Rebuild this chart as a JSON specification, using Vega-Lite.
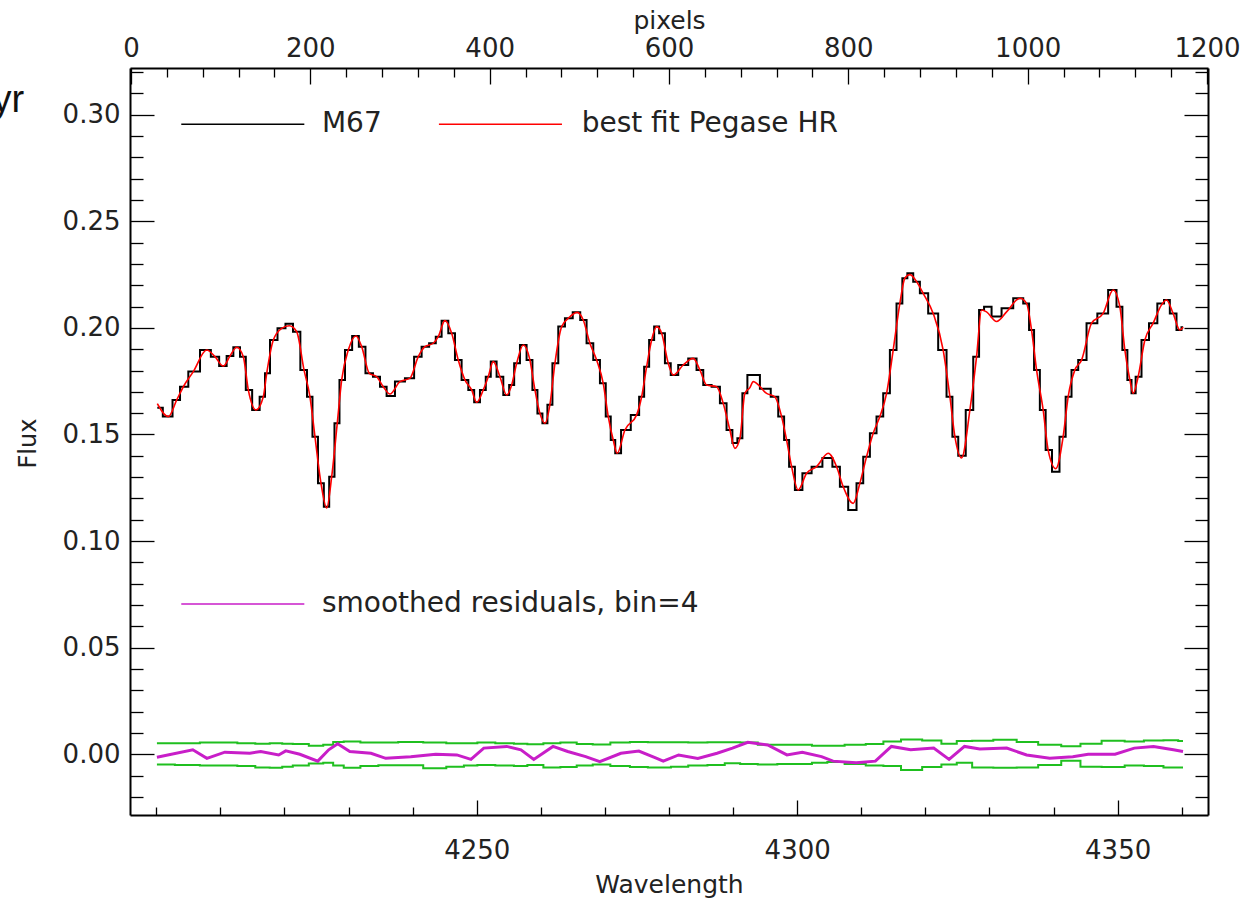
{
  "$schema": "https://vega.github.io/schema/vega-lite/v6.json",
  "autosize": "none",
  "width": 1078,
  "height": 747,
  "padding": {"left": 130, "top": 68, "right": 38, "bottom": 85},
  "background": "white",
  "config": {
    "view": {"stroke": null},
    "axis": {
      "labelFont": "DejaVu Sans", "titleFont": "DejaVu Sans",
      "labelColor": "#222", "titleColor": "#222", "titleFontWeight": "normal",
      "labelFontSize": 26, "titleFontSize": 25,
      "domainColor": "black", "tickColor": "black", "domainWidth": 2, "tickWidth": 1.3,
      "grid": false, "labelFlush": false, "labelOverlap": false, "labelBound": false
    }
  },
  "datasets": {
    "spec": [
      {"wl":4200.16,"m67":0.1625,"fit":0.1645},{"wl":4201.88,"m67":0.1584,"fit":0.1584},{"wl":4203.19,"m67":0.1662,"fit":0.1662},
      {"wl":4204.22,"m67":0.1724,"fit":0.1724},{"wl":4205.78,"m67":0.1795,"fit":0.1795},{"wl":4207.87,"m67":0.1896,"fit":0.1896},
      {"wl":4209.16,"m67":0.1865,"fit":0.1865},{"wl":4210.46,"m67":0.1821,"fit":0.1821},{"wl":4211.5,"m67":0.1868,"fit":0.1868},
      {"wl":4212.55,"m67":0.1909,"fit":0.1909},{"wl":4213.58,"m67":0.1865,"fit":0.1865},{"wl":4214.36,"m67":0.1709,"fit":0.1709},
      {"wl":4215.56,"m67":0.1615,"fit":0.1615},{"wl":4216.7,"m67":0.1677,"fit":0.1677},{"wl":4217.23,"m67":0.1787,"fit":0.1787},
      {"wl":4218.26,"m67":0.1943,"fit":0.1943},{"wl":4219.57,"m67":0.1998,"fit":0.1998},{"wl":4220.75,"m67":0.2020,"fit":0.2010},
      {"wl":4221.91,"m67":0.1982,"fit":0.1982},{"wl":4223.05,"m67":0.1803,"fit":0.1803},{"wl":4223.98,"m67":0.1677,"fit":0.1677},
      {"wl":4224.76,"m67":0.1490,"fit":0.1490},{"wl":4225.7,"m67":0.1271,"fit":0.1271},{"wl":4226.59,"m67":0.1161,"fit":0.1155},
      {"wl":4227.37,"m67":0.1302,"fit":0.1302},{"wl":4228.24,"m67":0.1553,"fit":0.1553},{"wl":4228.93,"m67":0.1756,"fit":0.1756},
      {"wl":4229.96,"m67":0.1896,"fit":0.1896},{"wl":4231.16,"m67":0.1962,"fit":0.1962},{"wl":4232.05,"m67":0.1912,"fit":0.1912},
      {"wl":4233.23,"m67":0.1787,"fit":0.1787},{"wl":4234.39,"m67":0.1771,"fit":0.1771},{"wl":4235.42,"m67":0.1724,"fit":0.1724},
      {"wl":4236.46,"m67":0.1680,"fit":0.1690},{"wl":4238.02,"m67":0.1748,"fit":0.1748},{"wl":4239.58,"m67":0.1764,"fit":0.1764},
      {"wl":4240.88,"m67":0.1865,"fit":0.1865},{"wl":4241.92,"m67":0.1912,"fit":0.1912},{"wl":4243.22,"m67":0.1928,"fit":0.1928},
      {"wl":4244.0,"m67":0.1959,"fit":0.1959},{"wl":4245.04,"m67":0.2034,"fit":0.2034},{"wl":4246.09,"m67":0.1975,"fit":0.1975},
      {"wl":4247.12,"m67":0.1849,"fit":0.1849},{"wl":4248.16,"m67":0.1756,"fit":0.1756},{"wl":4249.21,"m67":0.1709,"fit":0.1709},
      {"wl":4249.99,"m67":0.1651,"fit":0.1651},{"wl":4251.02,"m67":0.1709,"fit":0.1709},{"wl":4251.8,"m67":0.1771,"fit":0.1771},
      {"wl":4252.58,"m67":0.1842,"fit":0.1842},{"wl":4253.62,"m67":0.1771,"fit":0.1771},{"wl":4254.67,"m67":0.1685,"fit":0.1685},
      {"wl":4255.45,"m67":0.1732,"fit":0.1732},{"wl":4256.23,"m67":0.1834,"fit":0.1834},{"wl":4257.26,"m67":0.1920,"fit":0.1920},
      {"wl":4258.3,"m67":0.1849,"fit":0.1849},{"wl":4259.08,"m67":0.1709,"fit":0.1709},{"wl":4259.86,"m67":0.1599,"fit":0.1599},
      {"wl":4260.64,"m67":0.1553,"fit":0.1553},{"wl":4261.42,"m67":0.1640,"fit":0.1640},{"wl":4262.2,"m67":0.1834,"fit":0.1834},
      {"wl":4263.25,"m67":0.2006,"fit":0.2006},{"wl":4264.28,"m67":0.2045,"fit":0.2045},{"wl":4265.68,"m67":0.2073,"fit":0.2073},
      {"wl":4266.62,"m67":0.2037,"fit":0.2037},{"wl":4267.66,"m67":0.1928,"fit":0.1928},{"wl":4268.71,"m67":0.1849,"fit":0.1849},
      {"wl":4269.74,"m67":0.1740,"fit":0.1740},{"wl":4270.52,"m67":0.1584,"fit":0.1584},{"wl":4271.3,"m67":0.1474,"fit":0.1474},
      {"wl":4271.92,"m67":0.1412,"fit":0.1412},{"wl":4273.12,"m67":0.1521,"fit":0.1521},{"wl":4274.95,"m67":0.1592,"fit":0.1592},
      {"wl":4275.73,"m67":0.1677,"fit":0.1677},{"wl":4276.51,"m67":0.1818,"fit":0.1818},{"wl":4277.29,"m67":0.1943,"fit":0.1943},
      {"wl":4278.07,"m67":0.2006,"fit":0.2006},{"wl":4278.85,"m67":0.1975,"fit":0.1975},{"wl":4279.88,"m67":0.1834,"fit":0.1834},
      {"wl":4280.66,"m67":0.1779,"fit":0.1779},{"wl":4282.22,"m67":0.1826,"fit":0.1826},{"wl":4283.78,"m67":0.1857,"fit":0.1857},
      {"wl":4284.82,"m67":0.1803,"fit":0.1803},{"wl":4285.87,"m67":0.1732,"fit":0.1732},{"wl":4287.43,"m67":0.1724,"fit":0.1724},
      {"wl":4288.46,"m67":0.1646,"fit":0.1646},{"wl":4289.5,"m67":0.1521,"fit":0.1521},{"wl":4290.28,"m67":0.1460,"fit":0.1435},
      {"wl":4291.06,"m67":0.1482,"fit":0.1482},{"wl":4291.84,"m67":0.1693,"fit":0.1693},{"wl":4292.62,"m67":0.1779,"fit":0.1720},
      {"wl":4293.14,"m67":0.1779,"fit":0.1748},{"wl":4295.23,"m67":0.1715,"fit":0.1693},{"wl":4296.52,"m67":0.1677,"fit":0.1677},
      {"wl":4297.57,"m67":0.1584,"fit":0.1584},{"wl":4298.35,"m67":0.1474,"fit":0.1474},{"wl":4299.13,"m67":0.1349,"fit":0.1349},
      {"wl":4300.16,"m67":0.1240,"fit":0.1240},{"wl":4301.47,"m67":0.1318,"fit":0.1318},{"wl":4303.03,"m67":0.1349,"fit":0.1349},
      {"wl":4304.84,"m67":0.1390,"fit":0.1412},{"wl":4306.15,"m67":0.1349,"fit":0.1349},{"wl":4307.18,"m67":0.1255,"fit":0.1255},
      {"wl":4308.74,"m67":0.1146,"fit":0.1177},{"wl":4309.78,"m67":0.1271,"fit":0.1271},{"wl":4310.83,"m67":0.1396,"fit":0.1396},
      {"wl":4311.86,"m67":0.1506,"fit":0.1506},{"wl":4312.9,"m67":0.1584,"fit":0.1584},{"wl":4313.95,"m67":0.1693,"fit":0.1693},
      {"wl":4314.98,"m67":0.1896,"fit":0.1896},{"wl":4316.02,"m67":0.2115,"fit":0.2115},{"wl":4316.8,"m67":0.2233,"fit":0.2233},
      {"wl":4317.58,"m67":0.2256,"fit":0.2250},{"wl":4318.63,"m67":0.2217,"fit":0.2217},{"wl":4319.66,"m67":0.2162,"fit":0.2162},
      {"wl":4321.22,"m67":0.2068,"fit":0.2068},{"wl":4322.78,"m67":0.1896,"fit":0.1896},{"wl":4323.83,"m67":0.1677,"fit":0.1677},
      {"wl":4324.61,"m67":0.1490,"fit":0.1490},{"wl":4325.65,"m67":0.1400,"fit":0.1390},{"wl":4326.95,"m67":0.1615,"fit":0.1615},
      {"wl":4327.99,"m67":0.1865,"fit":0.1865},{"wl":4328.77,"m67":0.2084,"fit":0.2084},{"wl":4329.55,"m67":0.2099,"fit":0.2075},
      {"wl":4331.11,"m67":0.2053,"fit":0.2030},{"wl":4332.67,"m67":0.2092,"fit":0.2075},{"wl":4334.75,"m67":0.2139,"fit":0.2139},
      {"wl":4335.79,"m67":0.2115,"fit":0.2115},{"wl":4336.57,"m67":0.1990,"fit":0.1990},{"wl":4337.35,"m67":0.1803,"fit":0.1803},
      {"wl":4338.38,"m67":0.1615,"fit":0.1615},{"wl":4339.16,"m67":0.1427,"fit":0.1427},{"wl":4340.36,"m67":0.1325,"fit":0.1340},
      {"wl":4341.5,"m67":0.1490,"fit":0.1490},{"wl":4342.28,"m67":0.1677,"fit":0.1677},{"wl":4343.33,"m67":0.1803,"fit":0.1803},
      {"wl":4344.37,"m67":0.1849,"fit":0.1849},{"wl":4345.93,"m67":0.2022,"fit":0.2022},{"wl":4347.74,"m67":0.2068,"fit":0.2068},
      {"wl":4349.3,"m67":0.2178,"fit":0.2178},{"wl":4350.35,"m67":0.2099,"fit":0.2099},{"wl":4351.13,"m67":0.1896,"fit":0.1896},
      {"wl":4351.91,"m67":0.1756,"fit":0.1756},{"wl":4352.42,"m67":0.1693,"fit":0.1693},{"wl":4353.2,"m67":0.1771,"fit":0.1771},
      {"wl":4354.25,"m67":0.1943,"fit":0.1943},{"wl":4355.54,"m67":0.2022,"fit":0.2022},{"wl":4356.85,"m67":0.2115,"fit":0.2108},
      {"wl":4357.63,"m67":0.2131,"fit":0.2131},{"wl":4358.66,"m67":0.2068,"fit":0.2068},{"wl":4359.71,"m67":0.1990,"fit":0.1990},
      {"wl":4360.22,"m67":0.2003,"fit":0.2003}
    ],
    "res": [
      {"wl":4200.1,"resid":-0.0014,"upper":0.0052,"lower":-0.0048},{"wl":4205.7,"resid":0.0021,"upper":0.0052,"lower":-0.0050},
      {"wl":4207.9,"resid":-0.0019,"upper":0.0055,"lower":-0.0052},{"wl":4210.7,"resid":0.0010,"upper":0.0055,"lower":-0.0052},
      {"wl":4214.6,"resid":0.0005,"upper":0.0052,"lower":-0.0055},{"wl":4216.3,"resid":0.0013,"upper":0.0050,"lower":-0.0062},
      {"wl":4219.1,"resid":-0.0003,"upper":0.0052,"lower":-0.0063},{"wl":4220.2,"resid":0.0016,"upper":0.0050,"lower":-0.0058},
      {"wl":4222.4,"resid":0.0000,"upper":0.0048,"lower":-0.0052},{"wl":4225.2,"resid":-0.0032,"upper":0.0040,"lower":-0.0043},
      {"wl":4226.9,"resid":0.0021,"upper":0.0045,"lower":-0.0040},{"wl":4228.3,"resid":0.0049,"upper":0.0058,"lower":-0.0052},
      {"wl":4230.2,"resid":0.0013,"upper":0.0060,"lower":-0.0063},{"wl":4233.5,"resid":0.0005,"upper":0.0055,"lower":-0.0055},
      {"wl":4235.8,"resid":-0.0019,"upper":0.0055,"lower":-0.0051},{"wl":4239.7,"resid":-0.0011,"upper":0.0058,"lower":-0.0051},
      {"wl":4243.6,"resid":0.0000,"upper":0.0055,"lower":-0.0065},{"wl":4246.9,"resid":-0.0003,"upper":0.0052,"lower":-0.0058},
      {"wl":4249.1,"resid":-0.0024,"upper":0.0052,"lower":-0.0052},{"wl":4251.1,"resid":0.0029,"upper":0.0055,"lower":-0.0050},
      {"wl":4254.7,"resid":0.0037,"upper":0.0052,"lower":-0.0052},{"wl":4256.9,"resid":0.0021,"upper":0.0050,"lower":-0.0055},
      {"wl":4258.9,"resid":-0.0024,"upper":0.0047,"lower":-0.0050},{"wl":4261.9,"resid":0.0037,"upper":0.0052,"lower":-0.0062},
      {"wl":4264.2,"resid":0.0013,"upper":0.0055,"lower":-0.0060},{"wl":4267.0,"resid":-0.0011,"upper":0.0048,"lower":-0.0052},
      {"wl":4269.2,"resid":-0.0035,"upper":0.0046,"lower":-0.0048},{"wl":4272.5,"resid":0.0005,"upper":0.0055,"lower":-0.0055},
      {"wl":4275.3,"resid":0.0015,"upper":0.0058,"lower":-0.0060},{"wl":4278.1,"resid":-0.0019,"upper":0.0056,"lower":-0.0062},
      {"wl":4279.1,"resid":-0.0032,"upper":0.0056,"lower":-0.0062},{"wl":4281.5,"resid":-0.0003,"upper":0.0056,"lower":-0.0058},
      {"wl":4284.5,"resid":-0.0019,"upper":0.0055,"lower":-0.0052},{"wl":4287.5,"resid":0.0005,"upper":0.0056,"lower":-0.0050},
      {"wl":4289.9,"resid":0.0029,"upper":0.0056,"lower":-0.0042},{"wl":4292.3,"resid":0.0056,"upper":0.0055,"lower":-0.0045},
      {"wl":4295.4,"resid":0.0044,"upper":0.0045,"lower":-0.0048},{"wl":4298.4,"resid":-0.0003,"upper":0.0045,"lower":-0.0045},
      {"wl":4300.8,"resid":0.0010,"upper":0.0045,"lower":-0.0045},{"wl":4303.8,"resid":-0.0011,"upper":0.0040,"lower":-0.0040},
      {"wl":4305.6,"resid":-0.0032,"upper":0.0040,"lower":-0.0036},{"wl":4309.2,"resid":-0.0040,"upper":0.0045,"lower":-0.0045},
      {"wl":4312.2,"resid":-0.0032,"upper":0.0048,"lower":-0.0052},{"wl":4314.7,"resid":0.0037,"upper":0.0060,"lower":-0.0055},
      {"wl":4317.7,"resid":0.0021,"upper":0.0070,"lower":-0.0074},{"wl":4321.3,"resid":0.0029,"upper":0.0065,"lower":-0.0060},
      {"wl":4323.7,"resid":-0.0024,"upper":0.0050,"lower":-0.0048},{"wl":4326.1,"resid":0.0037,"upper":0.0062,"lower":-0.0040},
      {"wl":4328.5,"resid":0.0025,"upper":0.0063,"lower":-0.0062},{"wl":4332.7,"resid":0.0029,"upper":0.0068,"lower":-0.0063},
      {"wl":4335.8,"resid":-0.0003,"upper":0.0058,"lower":-0.0062},{"wl":4339.4,"resid":-0.0019,"upper":0.0045,"lower":-0.0050},
      {"wl":4343.0,"resid":-0.0011,"upper":0.0038,"lower":-0.0030},{"wl":4345.4,"resid":0.0000,"upper":0.0050,"lower":-0.0058},
      {"wl":4349.6,"resid":0.0000,"upper":0.0063,"lower":-0.0060},{"wl":4352.6,"resid":0.0029,"upper":0.0060,"lower":-0.0052},
      {"wl":4355.6,"resid":0.0037,"upper":0.0065,"lower":-0.0055},{"wl":4358.7,"resid":0.0021,"upper":0.0066,"lower":-0.0062},
      {"wl":4360.2,"resid":0.0013,"upper":0.0062,"lower":-0.0062}
    ],
    "legendLines": [
      {"series":"M67","x1":4203.9,"x2":4223.1,"flux":0.2955},
      {"series":"best fit","x1":4244.1,"x2":4263.3,"flux":0.2955},
      {"series":"resid","x1":4203.9,"x2":4223.1,"flux":0.0705}
    ],
    "legendText": [
      {"label":"M67","wl":4225.85,"flux":0.2955},
      {"label":"best fit Pegase HR","wl":4266.37,"flux":0.2955},
      {"label":"smoothed residuals, bin=4","wl":4225.85,"flux":0.0705}
    ],
    "corner": [{"label":"yr","wl":4179.4,"flux":0.3013}],
    "pixelRange": [{"pixel":0,"flux":0},{"pixel":1200,"flux":0}]
  },
  "resolve": {"scale": {"x": "independent", "y": "independent"}},
  "layer": [
    {
      "data": {"name": "spec"},
      "mark": {"type": "line", "interpolate": "step", "color": "black", "strokeWidth": 2},
      "encoding": {
        "x": {"field": "wl", "type": "quantitative",
          "scale": {"domain": [4195.9, 4364.1], "nice": false, "zero": false},
          "axis": {
            "orient": "bottom", "values": [4250, 4300, 4350], "format": "d",
            "ticks": false, "labelPadding": 22,
            "title": "Wavelength", "titleBaseline": "middle", "titleY": 69
          }
        },
        "y": {"field": "m67", "type": "quantitative",
          "scale": {"domain": [-0.02847, 0.3219], "nice": false, "zero": false},
          "axis": {
            "orient": "left", "values": [0, 0.05, 0.1, 0.15, 0.2, 0.25, 0.3], "format": ".2f",
            "ticks": false, "labelPadding": 10,
            "title": "Flux", "titleFontSize": 24, "titleAngle": 270, "titleBaseline": "middle", "titleAlign": "center",
            "titleX": -102, "titleY": 375
          }
        }
      }
    },
    {
      "data": {"name": "spec"},
      "mark": {"type": "line", "interpolate": "monotone", "color": "#ff0000", "strokeWidth": 1.6},
      "encoding": {
        "x": {"field": "wl", "type": "quantitative", "scale": {"domain": [4195.9, 4364.1], "nice": false, "zero": false},
          "axis": {
            "orient": "top", "offset": -747, "values": [4250, 4300, 4350],
            "tickSize": 15, "labels": false, "domain": false, "title": null
          }
        },
        "y": {"field": "fit", "type": "quantitative", "scale": {"domain": [-0.02847, 0.3219], "nice": false, "zero": false},
          "axis": {
            "orient": "right", "offset": -1078, "values": [0, 0.05, 0.1, 0.15, 0.2, 0.25, 0.3],
            "tickSize": 24, "labels": false, "domain": false, "title": null
          }
        }
      }
    },
    {
      "data": {"name": "res"},
      "mark": {"type": "line", "interpolate": "step", "color": "#1fbf1f", "strokeWidth": 2},
      "encoding": {
        "x": {"field": "wl", "type": "quantitative", "scale": {"domain": [4195.9, 4364.1], "nice": false, "zero": false},
          "axis": {
            "orient": "top", "offset": -747,
            "values": [4200,4210,4220,4230,4240,4260,4270,4280,4290,4310,4320,4330,4340,4360],
            "tickSize": 8, "labels": false, "domain": false, "title": null
          }
        },
        "y": {"field": "upper", "type": "quantitative", "scale": {"domain": [-0.02847, 0.3219], "nice": false, "zero": false},
          "axis": {
            "orient": "right", "offset": -1078,
            "values": [-0.02,-0.01,0.01,0.02,0.03,0.04,0.06,0.07,0.08,0.09,0.11,0.12,0.13,0.14,0.16,0.17,0.18,0.19,0.21,0.22,0.23,0.24,0.26,0.27,0.28,0.29,0.31,0.32],
            "tickSize": 13, "labels": false, "domain": false, "title": null
          }
        }
      }
    },
    {
      "data": {"name": "res"},
      "mark": {"type": "line", "interpolate": "step", "color": "#1fbf1f", "strokeWidth": 2},
      "encoding": {
        "x": {"field": "wl", "type": "quantitative", "scale": {"domain": [4195.9, 4364.1], "nice": false, "zero": false}, "axis": null},
        "y": {"field": "lower", "type": "quantitative", "scale": {"domain": [-0.02847, 0.3219], "nice": false, "zero": false}, "axis": null}
      }
    },
    {
      "data": {"name": "res"},
      "mark": {"type": "line", "color": "#c81ec8", "strokeWidth": 3},
      "encoding": {
        "x": {"field": "wl", "type": "quantitative", "scale": {"domain": [4195.9, 4364.1], "nice": false, "zero": false}, "axis": null},
        "y": {"field": "resid", "type": "quantitative", "scale": {"domain": [-0.02847, 0.3219], "nice": false, "zero": false}, "axis": null}
      }
    },
    {
      "data": {"name": "legendLines"},
      "mark": {"type": "rule"},
      "encoding": {
        "x": {"field": "x1", "type": "quantitative", "scale": {"domain": [4195.9, 4364.1], "nice": false, "zero": false}, "axis": null},
        "x2": {"field": "x2"},
        "y": {"field": "flux", "type": "quantitative", "scale": {"domain": [-0.02847, 0.3219], "nice": false, "zero": false}, "axis": null},
        "color": {"field": "series", "type": "nominal", "scale": {"domain": ["M67", "best fit", "resid"], "range": ["black", "#ff0000", "#c81ec8"]}, "legend": null},
        "strokeWidth": {"field": "series", "type": "nominal", "scale": {"domain": ["M67", "best fit", "resid"], "range": [1.5, 1.5, 2.5]}, "legend": null}
      }
    },
    {
      "data": {"name": "legendText"},
      "mark": {"type": "text", "align": "left", "baseline": "middle", "font": "DejaVu Sans", "fontSize": 28, "color": "#222"},
      "encoding": {
        "x": {"field": "wl", "type": "quantitative", "scale": {"domain": [4195.9, 4364.1], "nice": false, "zero": false}, "axis": null},
        "y": {"field": "flux", "type": "quantitative", "scale": {"domain": [-0.02847, 0.3219], "nice": false, "zero": false}, "axis": null},
        "text": {"field": "label"}
      }
    },
    {
      "data": {"name": "corner"},
      "mark": {"type": "text", "align": "right", "baseline": "alphabetic", "font": "Liberation Sans", "fontSize": 38, "color": "#111"},
      "encoding": {
        "x": {"field": "wl", "type": "quantitative", "scale": {"domain": [4195.9, 4364.1], "nice": false, "zero": false}, "axis": null},
        "y": {"field": "flux", "type": "quantitative", "scale": {"domain": [-0.02847, 0.3219], "nice": false, "zero": false}, "axis": null},
        "text": {"field": "label"}
      }
    },
    {
      "data": {"name": "pixelRange"},
      "mark": {"type": "point", "opacity": 0},
      "encoding": {
        "x": {"field": "pixel", "type": "quantitative",
          "scale": {"domain": [-1.1, 1201.1], "nice": false, "zero": false},
          "axis": {
            "orient": "top", "values": [0, 200, 400, 600, 800, 1000, 1200], "format": "d",
            "ticks": false, "labelPadding": 7,
            "title": "pixels", "titleBaseline": "middle", "titleY": -48
          }
        },
        "y": {"field": "flux", "type": "quantitative",
          "scale": {"domain": [-0.02847, 0.3219], "nice": false, "zero": false},
          "axis": {
            "orient": "right", "values": [0, 0.05, 0.1], "ticks": false, "labels": false, "title": null
          }
        }
      }
    },
    {
      "data": {"name": "pixelRange"},
      "mark": {"type": "point", "opacity": 0},
      "encoding": {
        "x": {"field": "pixel", "type": "quantitative",
          "scale": {"domain": [-1.1, 1201.1], "nice": false, "zero": false},
          "axis": {
            "orient": "bottom", "offset": -747, "values": [0, 200, 400, 600, 800, 1000, 1200],
            "tickSize": 16, "labels": false, "domain": false, "title": null
          }
        },
        "y": {"field": "flux", "type": "quantitative",
          "scale": {"domain": [-0.02847, 0.3219], "nice": false, "zero": false},
          "axis": {
            "orient": "left", "offset": -1078, "values": [0, 0.05, 0.1, 0.15, 0.2, 0.25, 0.3],
            "tickSize": 24, "labels": false, "domain": false, "title": null
          }
        }
      }
    },
    {
      "data": {"name": "pixelRange"},
      "mark": {"type": "point", "opacity": 0},
      "encoding": {
        "x": {"field": "pixel", "type": "quantitative",
          "scale": {"domain": [-1.1, 1201.1], "nice": false, "zero": false},
          "axis": {
            "orient": "bottom", "offset": -747,
            "values": [40,80,120,160,240,280,320,360,440,480,520,560,640,680,720,760,840,880,920,960,1040,1080,1120,1160],
            "tickSize": 9, "labels": false, "domain": false, "title": null
          }
        },
        "y": {"field": "flux", "type": "quantitative",
          "scale": {"domain": [-0.02847, 0.3219], "nice": false, "zero": false},
          "axis": {
            "orient": "left", "offset": -1078,
            "values": [-0.02,-0.01,0.01,0.02,0.03,0.04,0.06,0.07,0.08,0.09,0.11,0.12,0.13,0.14,0.16,0.17,0.18,0.19,0.21,0.22,0.23,0.24,0.26,0.27,0.28,0.29,0.31,0.32],
            "tickSize": 13, "labels": false, "domain": false, "title": null
          }
        }
      }
    }
  ]
}
